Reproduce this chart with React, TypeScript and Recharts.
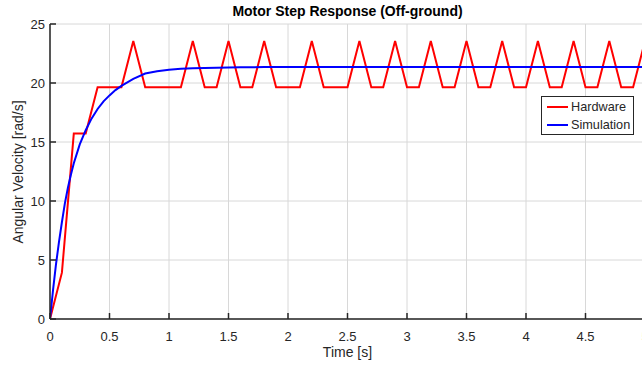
import React from 'react';
import { LineChart, Line, XAxis, YAxis, CartesianGrid, Legend } from 'recharts';

const FONT = '"Liberation Sans", Arial, Helvetica, sans-serif';
const AXIS = '#262626';

const xTicks = [0, 0.5, 1, 1.5, 2, 2.5, 3, 3.5, 4, 4.5, 5];
const yTicks = [0, 5, 10, 15, 20, 25];

// Hardware (encoder-quantised) samples
const hardwareTime = [
  0, 0.1, 0.2, 0.3, 0.4, 0.5, 0.6, 0.7, 0.8, 0.9, 1.0, 1.1, 1.2, 1.3, 1.4, 1.5, 1.6, 1.7, 1.8, 1.9,
  2.0, 2.1, 2.2, 2.3, 2.4, 2.5, 2.6, 2.7, 2.8, 2.9, 3.0, 3.1, 3.2, 3.3, 3.4, 3.5, 3.6, 3.7, 3.8, 3.9,
  4.0, 4.1, 4.2, 4.3, 4.4, 4.5, 4.6, 4.7, 4.8, 4.9, 5.0,
];
const hardwareSpeed = [
  0, 3.93, 15.71, 15.71, 19.63, 19.63, 19.63, 23.56, 19.63, 19.63, 19.63, 19.63, 23.56, 19.63, 19.63, 23.56, 19.63, 19.63, 23.56, 19.63,
  19.63, 19.63, 23.56, 19.63, 19.63, 19.63, 23.56, 19.63, 19.63, 23.56, 19.63, 19.63, 23.56, 19.63, 19.63, 23.56, 19.63, 19.63, 23.56, 19.63,
  19.63, 23.56, 19.63, 19.63, 23.56, 19.63, 19.63, 23.56, 19.63, 19.63, 23.56,
];

// Simulation curve
const simTime = [0, 0.025, 0.05, 0.075, 0.1, 0.125, 0.15, 0.175, 0.2, 0.25, 0.3, 0.35, 0.4, 0.45, 0.5, 0.55, 0.6, 0.7, 0.8, 0.9, 1.0, 1.1, 1.2, 1.4, 1.6, 1.8, 2.0, 3.0, 4.0, 5.0];
const simSpeed = [0, 2.4, 4.6, 6.5, 8.2, 9.8, 11.1, 12.2, 13.2, 14.8, 16.0, 17.0, 17.8, 18.45, 18.95, 19.4, 19.75, 20.35, 20.8, 21.0, 21.13, 21.2, 21.25, 21.3, 21.33, 21.35, 21.35, 21.35, 21.35, 21.35];

const hardwareData = hardwareTime.map((t, i) => ({ t, v: hardwareSpeed[i] }));
const simData = simTime.map((t, i) => ({ t, v: simSpeed[i] }));

const BottomTick = (props: any) => {
  const { x, y, payload } = props;
  return (
    <g>
      <line x1={x} y1={y} x2={x} y2={y - 6} stroke={AXIS} strokeWidth={1.5} />
      <text x={x} y={y + 21.5} textAnchor="middle" fontFamily={FONT} fontSize={13} fill={AXIS}>
        {payload.value}
      </text>
    </g>
  );
};
const TopTick = (props: any) => {
  const { x, y } = props;
  return <line x1={x} y1={y} x2={x} y2={y + 6} stroke={AXIS} strokeWidth={1.5} />;
};
const LeftTick = (props: any) => {
  const { x, y, payload } = props;
  return (
    <g>
      <line x1={x} y1={y} x2={x + 6} y2={y} stroke={AXIS} strokeWidth={1.5} />
      <text x={x - 5} y={y + 4.5} textAnchor="end" fontFamily={FONT} fontSize={13} fill={AXIS}>
        {payload.value}
      </text>
    </g>
  );
};
const RightTick = (props: any) => {
  const { x, y } = props;
  return <line x1={x} y1={y} x2={x - 6} y2={y} stroke={AXIS} strokeWidth={1.5} />;
};

const LegendBox = () => {
  const rows = [
    { name: 'Hardware', color: '#ff0000' },
    { name: 'Simulation', color: '#0000ff' },
  ];
  return (
    <div
      style={{
        boxSizing: 'border-box',
        width: 93,
        height: 39,
        border: `1.5px solid ${AXIS}`,
        background: '#fff',
        padding: '1.25px 0 0 5px',
        fontFamily: FONT,
        fontSize: 12.7,
        color: AXIS,
      }}
    >
      {rows.map((r) => (
        <div key={r.name} style={{ height: 17.5, display: 'flex', alignItems: 'center' }}>
          <span style={{ display: 'inline-block', width: 21, height: 2, background: r.color, marginRight: 3 }} />
          <span style={{ whiteSpace: 'nowrap' }}>{r.name}</span>
        </div>
      ))}
    </div>
  );
};

export default function App() {
  return (
    <div style={{ position: 'absolute', left: 0, top: 0, width: 642, height: 366, overflow: 'hidden', background: '#fff' }}>
      <LineChart width={660} height={366} margin={{ top: 24, right: 15, bottom: 17, left: 0 }}>
        <CartesianGrid stroke="#d8d8d8" strokeWidth={1} />
        <XAxis
          dataKey="t"
          type="number"
          domain={[0, 5]}
          ticks={xTicks}
          allowDataOverflow
          height={30}
          tickSize={0}
          tickMargin={0}
          stroke={AXIS}
          axisLine={{ stroke: AXIS, strokeWidth: 1.5 }}
          tickLine={false}
          tick={BottomTick}
          interval={0}
        />
        <XAxis
          xAxisId="top"
          orientation="top"
          type="number"
          domain={[0, 5]}
          ticks={xTicks}
          height={0}
          tickSize={0}
          tickMargin={0}
          axisLine={{ stroke: AXIS, strokeWidth: 1.5 }}
          tickLine={false}
          tick={TopTick}
          interval={0}
        />
        <YAxis
          type="number"
          domain={[0, 25]}
          ticks={yTicks}
          width={50}
          tickSize={0}
          tickMargin={0}
          axisLine={{ stroke: AXIS, strokeWidth: 1.5 }}
          tickLine={false}
          tick={LeftTick}
          interval={0}
        />
        <YAxis
          yAxisId="right"
          orientation="right"
          type="number"
          domain={[0, 25]}
          ticks={yTicks}
          width={0}
          tickSize={0}
          tickMargin={0}
          axisLine={{ stroke: AXIS, strokeWidth: 1.5 }}
          tickLine={false}
          tick={RightTick}
          interval={0}
        />
        <Line
          data={hardwareData}
          dataKey="v"
          name="Hardware"
          type="linear"
          stroke="#ff0000"
          strokeWidth={2}
          dot={false}
          isAnimationActive={false}
        />
        <Line
          data={simData}
          dataKey="v"
          name="Simulation"
          type="linear"
          stroke="#0000ff"
          strokeWidth={2}
          dot={false}
          isAnimationActive={false}
        />
        <Legend
          layout="vertical"
          align="center"
          verticalAlign="middle"
          content={<LegendBox />}
          wrapperStyle={{ position: 'absolute', left: 541, top: 96, width: 93, height: 39 }}
        />
      </LineChart>
      <div
        style={{
          position: 'absolute',
          left: 50,
          width: 595,
          top: 2,
          textAlign: 'center',
          fontFamily: FONT,
          fontWeight: 'bold',
          fontSize: 14,
          lineHeight: '18px',
          color: '#000',
          whiteSpace: 'nowrap',
        }}
      >
        Motor Step Response (Off-ground)
      </div>
      <div
        style={{
          position: 'absolute',
          left: 50,
          width: 595,
          top: 343,
          textAlign: 'center',
          fontFamily: FONT,
          fontSize: 14,
          lineHeight: '18px',
          color: AXIS,
          whiteSpace: 'nowrap',
        }}
      >
        Time [s]
      </div>
      <div
        style={{
          position: 'absolute',
          left: 18 - 100,
          top: 172 - 9,
          width: 200,
          height: 18,
          textAlign: 'center',
          fontFamily: FONT,
          fontSize: 14,
          lineHeight: '18px',
          color: AXIS,
          whiteSpace: 'nowrap',
          transform: 'rotate(-90deg)',
        }}
      >
        Angular Velocity [rad/s]
      </div>
    </div>
  );
}
